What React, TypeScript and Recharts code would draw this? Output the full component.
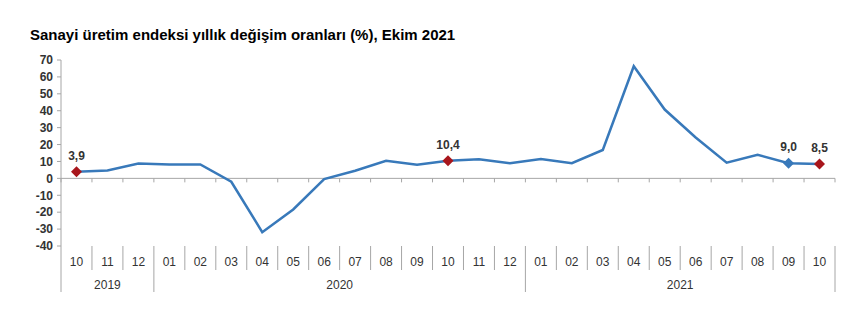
import React from 'react';
import {
  LineChart,
  Line,
  XAxis,
  YAxis,
  ReferenceLine,
  LabelList,
} from 'recharts';

// months from 10/2019 to 10/2021
const months = [
  '10', '11', '12',
  '01', '02', '03', '04', '05', '06', '07', '08', '09', '10', '11', '12',
  '01', '02', '03', '04', '05', '06', '07', '08', '09', '10',
];

const values = [
  3.9, 4.7, 8.8,
  8.2, 8.2, -2.0, -31.8, -18.4, -0.4, 4.5, 10.4, 8.0, 10.4, 11.3, 8.9,
  11.4, 9.0, 16.8, 66.3, 40.7, 24.2, 9.3, 13.9, 9.0, 8.5,
];

// labels shown above the highlighted points
const pointLabels: (string | null)[] = values.map(() => null);
pointLabels[0] = '3,9';
pointLabels[12] = '10,4';
pointLabels[23] = '9,0';
pointLabels[24] = '8,5';

const redPoints = [0, 12, 24];
const bluePoints = [23];

const years = [
  { year: '2019', from: 0, to: 2 },
  { year: '2020', from: 3, to: 14 },
  { year: '2021', from: 15, to: 24 },
];

const yTicks = [-40, -30, -20, -10, 0, 10, 20, 30, 40, 50, 60, 70];

const data = months.map((m, i) => ({ m: `${m}-${i}`, month: m, value: values[i], label: pointLabels[i] }));

const FONT = '"Liberation Sans", Arial, sans-serif';
const LINE = '#3879ba';
const RED = '#a8161c';
const GRID = '#a6a6a6';

const W = 868;
const H = 328;
const LEFT = 61;
const RIGHT = 33;
const band = (W - LEFT - RIGHT) / months.length;

const Diamond = (props: any) => {
  const { cx, cy, index } = props;
  let fill: string | null = null;
  if (redPoints.includes(index)) fill = RED;
  if (bluePoints.includes(index)) fill = LINE;
  if (!fill || cx == null) return <g key={index} />;
  const r = 5.5;
  return (
    <path
      key={index}
      d={`M${cx},${cy - r} L${cx + r},${cy} L${cx},${cy + r} L${cx - r},${cy} Z`}
      fill={fill}
    />
  );
};

const MonthTick = (props: any) => {
  const { x, y, index, payload } = props;
  const group = years.find((g) => index >= g.from && index <= g.to)!;
  const yearEnd = index === group.to;
  const rx = x + band / 2;
  return (
    <g>
      <text x={x} y={y + 20} textAnchor="middle" fontFamily={FONT} fontSize={12} fill="#333">
        {data[index]?.month ?? payload.value}
      </text>
      <line x1={rx} x2={rx} y1={y} y2={yearEnd ? y + 46 : y + 24} stroke={GRID} />
      {index === 0 && (
        <line x1={x - band / 2} x2={x - band / 2} y1={y} y2={y + 46} stroke={GRID} />
      )}
      {index === group.from && (
        <text
          x={x + ((group.to - group.from) / 2) * band}
          y={y + 43}
          textAnchor="middle"
          fontFamily={FONT}
          fontSize={12}
          fill="#333"
        >
          {group.year}
        </text>
      )}
    </g>
  );
};

const ZeroLine = (props: any) => {
  const { x1, x2, y1 } = props;
  const ticks = [];
  for (let i = 0; i <= months.length; i++) {
    const tx = x1 + ((x2 - x1) / months.length) * i;
    ticks.push(<line key={i} x1={tx} x2={tx} y1={y1} y2={y1 + 4} stroke={GRID} />);
  }
  return (
    <g>
      <line x1={x1} x2={x2} y1={y1} y2={y1} stroke={GRID} />
      {ticks}
    </g>
  );
};

const PointLabel = (props: any) => {
  const { x, y, value } = props;
  if (!value) return null;
  return (
    <text x={x} y={y - 12} textAnchor="middle" fontFamily={FONT} fontSize={12} fontWeight="bold" fill="#333">
      {value}
    </text>
  );
};

export default function App() {
  return (
    <div style={{ position: 'relative', width: W, height: H, margin: -8, background: '#fff' }}>
      <div
        style={{
          position: 'absolute',
          left: 30,
          top: 26,
          fontFamily: FONT,
          fontSize: 15,
          fontWeight: 'bold',
          color: '#000',
          lineHeight: '17px',
          whiteSpace: 'nowrap',
        }}
      >
        Sanayi üretim endeksi yıllık değişim oranları (%), Ekim 2021
      </div>
      <div style={{ position: 'absolute', left: 0, top: 0 }}>
        <LineChart width={W} height={H} data={data} margin={{ top: 60, right: RIGHT, bottom: 0, left: 0 }}>
          <XAxis
            dataKey="m"
            scale="band"
            height={82}
            axisLine={false}
            tickLine={false}
            tickSize={0}
            tickMargin={0}
            interval={0}
            tick={<MonthTick />}
          />
          <YAxis
            width={LEFT}
            domain={[-40, 70]}
            ticks={yTicks}
            interval={0}
            axisLine={{ stroke: GRID }}
            tickLine={{ stroke: GRID }}
            tickSize={4}
            tickMargin={4}
            tick={{ fontFamily: FONT, fontSize: 12, fontWeight: 'bold', fill: '#333' }}
          />
          <ReferenceLine y={0} shape={<ZeroLine />} />
          <Line
            dataKey="value"
            stroke={LINE}
            strokeWidth={2.5}
            dot={<Diamond />}
            activeDot={false}
            isAnimationActive={false}
          >
            <LabelList dataKey="label" content={<PointLabel />} />
          </Line>
        </LineChart>
      </div>
    </div>
  );
}
